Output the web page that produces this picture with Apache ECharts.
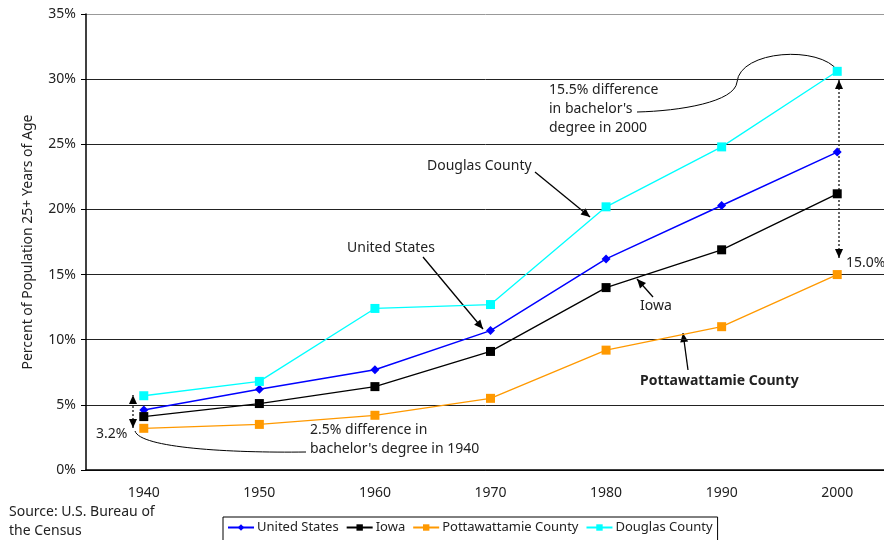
<!DOCTYPE html>
<html>
<head>
<meta charset="utf-8">
<script src="https://cdn.jsdelivr.net/npm/echarts@6/dist/echarts.min.js"></script>
<style>
  html, body { margin: 0; padding: 0; background: #fff; }
  #chart { width: 884px; height: 540px; }
</style>
</head>
<body>
<div id="chart"></div>
<script>
  var years = ['1940', '1950', '1960', '1970', '1980', '1990', '2000']
  var unitedStates = [4.6, 6.2, 7.7, 10.7, 16.2, 20.3, 24.4]
  var iowa = [4.1, 5.1, 6.4, 9.1, 14.0, 16.9, 21.2]
  var pottawattamie = [3.2, 3.5, 4.2, 5.5, 9.2, 11.0, 15.0]
  var douglas = [5.7, 6.8, 12.4, 12.7, 20.2, 24.8, 30.6]
  var yTicks = [0, 5, 10, 15, 20, 25, 30, 35]

  var FONT = 'Noto Sans'
  var chart = echarts.init(document.getElementById('chart'))

  // arrow helper: line from (x1,y1) to tip (x2,y2)
  function arrow(x1, y1, x2, y2, dotted, both) {
    var items = [{
      type: 'line',
      shape: { x1: x1, y1: y1, x2: x2, y2: y2 },
      style: { stroke: '#000', lineWidth: dotted ? 1.2 : 1.3, lineDash: dotted ? [2, 2] : null }
    }]
    function head(tx, ty, fx, fy) {
      var a = Math.atan2(ty - fy, tx - fx), len = 9, w = 4
      var bx = tx - len * Math.cos(a), by = ty - len * Math.sin(a)
      items.push({
        type: 'polygon',
        shape: { points: [[tx, ty], [bx + w * Math.sin(a), by - w * Math.cos(a)], [bx - w * Math.sin(a), by + w * Math.cos(a)]] },
        style: { fill: '#000' }
      })
    }
    head(x2, y2, x1, y1)
    if (both) head(x1, y1, x2, y2)
    return { type: 'group', children: items }
  }

  function label(x, y, text, bold) {
    return {
      type: 'text', x: x, y: y,
      style: { text: text, fill: '#222', font: (bold ? 'bold ' : '') + '14px "' + FONT + '"', lineHeight: 19 }
    }
  }

  function curve(x1, y1, cx1, cy1, cx2, cy2, x2, y2) {
    return {
      type: 'bezierCurve',
      shape: { x1: x1, y1: y1, cpx1: cx1, cpy1: cy1, cpx2: cx2, cpy2: cy2, x2: x2, y2: y2 },
      style: { stroke: '#000', lineWidth: 1, fill: null }
    }
  }

  var gridColors = yTicks.map(function (v) { return v === 35 ? '#999' : '#222' })

  var option = {
    animation: false,
    textStyle: { fontFamily: FONT },
    grid: { left: 86, top: 14, width: 809, height: 456, outerBoundsMode: 'none' },
    legend: {
      left: 223, top: 517,
      itemGap: 7, itemWidth: 26, itemHeight: 8,
      padding: [4, 5, 10, 4],
      borderColor: '#000', borderWidth: 1, borderRadius: 0,
      textStyle: { fontSize: 13, color: '#222', fontFamily: FONT, padding: [0, 0, 0, -2] },
      data: ['United States', 'Iowa', 'Pottawattamie County', 'Douglas County']
    },
    xAxis: {
      type: 'category',
      data: years,
      boundaryGap: true,
      axisLine: { lineStyle: { color: '#000', width: 1.5 } },
      axisTick: { length: 5, lineStyle: { color: '#000' } },
      axisLabel: { color: '#222', fontSize: 14, margin: 16 }
    },
    yAxis: {
      type: 'value',
      min: 0, max: 35, interval: 5,
      name: 'Percent of Population 25+ Years of Age',
      nameLocation: 'middle', nameGap: 51,
      nameTextStyle: { fontSize: 14, color: '#222' },
      axisLine: { show: true, lineStyle: { color: '#000', width: 1.5 } },
      axisTick: { show: true, length: 5, lineStyle: { color: '#000' } },
      axisLabel: { formatter: '{value}%', color: '#222', fontSize: 14, margin: 10 },
      splitLine: { lineStyle: { color: gridColors, width: 1 } }
    },
    series: [
      {
        name: 'United States', type: 'line', data: unitedStates,
        symbol: 'diamond', symbolSize: 9,
        itemStyle: { color: '#0000ff' }, lineStyle: { color: '#0000ff', width: 1.5 }
      },
      {
        name: 'Iowa', type: 'line', data: iowa,
        symbol: 'rect', symbolSize: 9,
        itemStyle: { color: '#000' }, lineStyle: { color: '#000', width: 1.3 }
      },
      {
        name: 'Pottawattamie County', type: 'line', data: pottawattamie,
        symbol: 'rect', symbolSize: 9,
        itemStyle: { color: '#ff9900' }, lineStyle: { color: '#ff9900', width: 1.3 }
      },
      {
        name: 'Douglas County', type: 'line', data: douglas,
        symbol: 'rect', symbolSize: 9,
        itemStyle: { color: '#00ffff' }, lineStyle: { color: '#00ffff', width: 1.3 }
      }
    ],
    graphic: [
      label(9, 503, 'Source: U.S. Bureau of\nthe Census'),
      // series callouts
      label(427, 157, 'Douglas County'),
      arrow(535, 172, 590, 217),
      label(347, 239, 'United States'),
      arrow(423, 257, 483, 329),
      label(640, 297, 'Iowa'),
      arrow(653, 297, 637, 279),
      label(640, 372, 'Pottawattamie County', true),
      arrow(688, 370, 683, 333),
      // 2000 difference
      label(549, 81, '15.5% difference\nin bachelor\'s\ndegree in 2000'),
      curve(637, 112, 680, 111, 735, 102, 737, 82),
      curve(737, 82, 740, 50, 820, 45, 838, 71),
      arrow(839, 258, 839, 80, true, true),
      label(846, 254, '15.0%'),
      // 1940 difference
      arrow(133, 428, 133, 395, true, true),
      label(96, 425, '3.2%'),
      curve(135, 431, 140, 448, 230, 453, 306, 452),
      label(310, 421, '2.5% difference in\nbachelor\'s degree in 1940')
    ]
  }

  chart.setOption(option)
</script>
</body>
</html>
